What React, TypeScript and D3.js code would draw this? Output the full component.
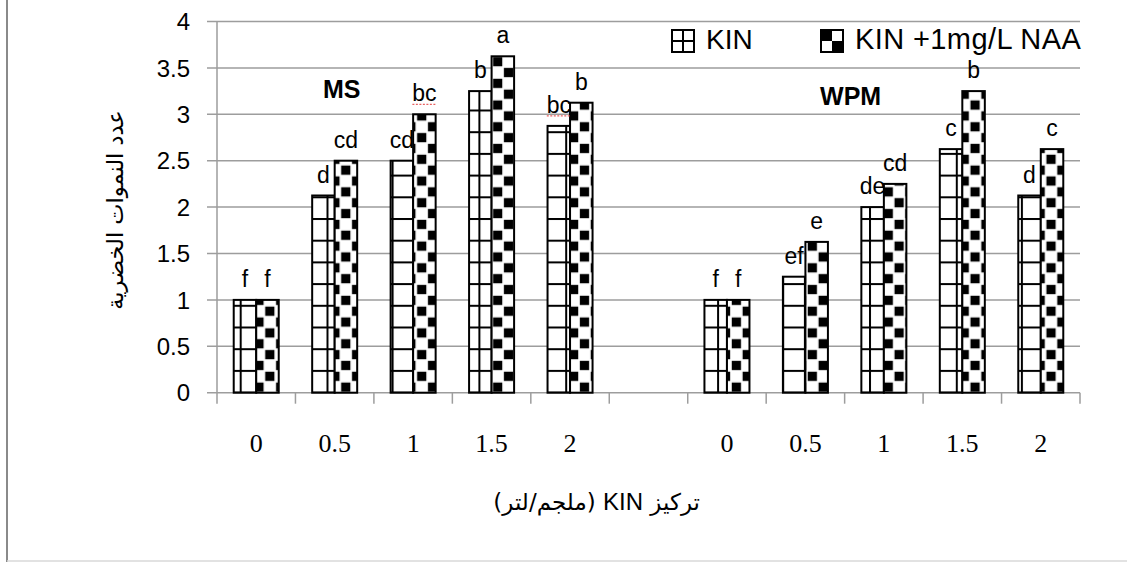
import React from 'react';
import * as d3 from 'd3';

const concentrations = ['0', '0.5', '1', '1.5', '2'];
const mediaNames = ['MS', 'WPM'];
const seriesNames = ['KIN', 'KIN +1mg/L NAA'];
const kinMS = [1, 2.125, 2.5, 3.25, 2.875];
const naaMS = [1, 2.5, 3, 3.625, 3.125];
const kinWPM = [1, 1.25, 2, 2.625, 2.125];
const naaWPM = [1, 1.625, 2.25, 3.25, 2.625];
const lettersKinMS = ['f', 'd', 'cd', 'b', 'bc'];
const lettersNaaMS = ['f', 'cd', 'bc', 'a', 'b'];
const lettersKinWPM = ['f', 'ef', 'de', 'c', 'd'];
const lettersNaaWPM = ['f', 'e', 'cd', 'b', 'c'];
const yTicks = [0, 0.5, 1, 1.5, 2, 2.5, 3, 3.5, 4];
const yTitle = 'عدد النموات الخضرية';
const xTitleParts = ['تركيز ', 'KIN', ' (ملجم/لتر)'];

const W = 1127;
const H = 562;
const plotLeft = 217;
const plotRight = 1080;
const plotTop = 21.5;
const plotBottom = 392.7;

type Row = { key: string; medium: string; conc: string; kin: number; naa: number; lk: string; ln: string };

const rows: Row[] = [];
concentrations.forEach((c, i) =>
  rows.push({ key: 'MS|' + c, medium: 'MS', conc: c, kin: kinMS[i], naa: naaMS[i], lk: lettersKinMS[i], ln: lettersNaaMS[i] })
);
const gapKey = 'gap';
concentrations.forEach((c, i) =>
  rows.push({ key: 'WPM|' + c, medium: 'WPM', conc: c, kin: kinWPM[i], naa: naaWPM[i], lk: lettersKinWPM[i], ln: lettersNaaWPM[i] })
);
const keys = [...rows.slice(0, 5).map((r) => r.key), gapKey, ...rows.slice(5).map((r) => r.key)];

const GRID = '#9d9d9d';
const P = 21.7;

export default function App() {
  const x = d3.scaleBand<string>().domain(keys).range([plotLeft, plotRight]);
  const bw = x.bandwidth();
  const sub = d3.scaleBand<string>().domain(['KIN', 'NAA']).range([0, bw]).paddingOuter(0.743);
  const y = d3.scaleLinear().domain([0, 4]).range([plotBottom, plotTop]);
  const tickXs = [...keys.map((k) => x(k) as number), plotRight];

  const sans = "'Liberation Sans', Arial, sans-serif";
  const serif = "'Liberation Serif', 'Times New Roman', serif";
  const arabic = "'DejaVu Sans', sans-serif";

  const msX = (x('MS|0.5') as number) + bw / 2 + 7;
  const wpmX = (x('WPM|0.5') as number) + bw + 6;

  const letter = (lx: number, ly: number, txt: string, medium: string, k: string) => (
    <g key={k}>
      <text x={lx} y={ly} textAnchor="middle" fontFamily={sans} fontSize={23} fill="#000">
        {txt}
      </text>
      {medium === 'MS' && txt === 'bc' ? (
        <line x1={lx - 12} x2={lx + 12} y1={ly + 3} y2={ly + 3} stroke="#e23b3b" strokeWidth={1} strokeDasharray="2 1.5" />
      ) : null}
    </g>
  );

  return (
    <svg width={W} height={H} style={{ position: 'absolute', left: 0, top: 0, background: '#fff' }}>
      <defs>
        <pattern id="gridPat" patternUnits="userSpaceOnUse" width={P} height={P} x={1} y={1}>
          <rect width={P} height={P} fill="#fff" />
          <rect x={0} y={0} width={2} height={P} fill="#000" />
          <rect x={0} y={0} width={P} height={2} fill="#000" />
        </pattern>
        <pattern id="checkPat" patternUnits="userSpaceOnUse" width={P} height={P} x={4} y={2}>
          <rect width={P} height={P} fill="#fff" />
          <rect x={0.8} y={0.8} width={P / 2 - 1.6} height={P / 2 - 1.6} fill="#000" />
          <rect x={P / 2 + 0.8} y={P / 2 + 0.8} width={P / 2 - 1.6} height={P / 2 - 1.6} fill="#000" />
        </pattern>
      </defs>

      {/* chart border */}
      <line x1={7} x2={7} y1={0} y2={H} stroke="#8a8a8a" strokeWidth={2} />
      <line x1={7} x2={W} y1={H - 1} y2={H - 1} stroke="#d9d9d9" strokeWidth={1.5} />

      {/* gridlines */}
      {yTicks.map((t) => (
        <line key={'g' + t} x1={plotLeft - 10} x2={plotRight} y1={y(t)} y2={y(t)} stroke={GRID} strokeWidth={1.5} />
      ))}
      <line x1={plotLeft} x2={plotLeft} y1={plotTop} y2={plotBottom} stroke={GRID} strokeWidth={1.5} />
      {tickXs.map((tx, i) => (
        <line key={'xt' + i} x1={tx} x2={tx} y1={plotBottom} y2={plotBottom + 11} stroke={GRID} strokeWidth={1.5} />
      ))}

      {/* y tick labels */}
      {yTicks.map((t) => (
        <text key={'yl' + t} x={190} y={y(t)} dy="0.36em" textAnchor="end" fontFamily={sans} fontSize={24} fill="#000">
          {String(t)}
        </text>
      ))}

      {/* bars */}
      {rows.map((r) => {
        const x0 = x(r.key) as number;
        const xk = x0 + (sub('KIN') as number);
        const xn = x0 + (sub('NAA') as number);
        const sw = sub.bandwidth();
        return (
          <g key={r.key}>
            <rect x={xk} y={y(r.kin)} width={sw} height={y(0) - y(r.kin)} fill="url(#gridPat)" stroke="#000" strokeWidth={2} />
            <rect x={xn} y={y(r.naa)} width={sw} height={y(0) - y(r.naa)} fill="url(#checkPat)" stroke="#000" strokeWidth={2} />
            {letter(xk + sw / 2, y(r.kin) - 13, r.lk, r.medium, 'lk')}
            {letter(xn + sw / 2, y(r.naa) - 13, r.ln, r.medium, 'ln')}
            <text x={x0 + bw / 2} y={452} textAnchor="middle" fontFamily={serif} fontSize={26} fill="#000">
              {r.conc}
            </text>
          </g>
        );
      })}

      {/* medium labels */}
      <text x={msX} y={y(3.18)} textAnchor="middle" fontFamily={sans} fontWeight="bold" fontSize={25}>
        {mediaNames[0]}
      </text>
      <text x={wpmX} y={y(3.1)} textAnchor="middle" fontFamily={sans} fontWeight="bold" fontSize={25}>
        {mediaNames[1]}
      </text>

      {/* legend */}
      <g>
        <rect x={672} y={30} width={22} height={22} fill="#fff" stroke="#000" strokeWidth={2} />
        <line x1={683} x2={683} y1={30} y2={52} stroke="#000" strokeWidth={2} />
        <line x1={672} x2={694} y1={41} y2={41} stroke="#000" strokeWidth={2} />
        <text x={706} y={49} fontFamily={sans} fontSize={28}>
          {seriesNames[0]}
        </text>
        <rect x={821} y={30} width={22} height={22} fill="#fff" stroke="#000" strokeWidth={2} />
        <rect x={822} y={31} width={10} height={10} fill="#000" />
        <rect x={832} y={41} width={10} height={10} fill="#000" />
        <text x={855} y={49} fontFamily={sans} fontSize={29} letterSpacing={0.4}>
          {seriesNames[1]}
        </text>
      </g>

      {/* axis titles */}
      <text transform={`translate(123,210) rotate(-90)`} textAnchor="middle" fontFamily={arabic} fontSize={22.5} direction="rtl">
        {yTitle}
      </text>
      <text x={700} y={510} textAnchor="start" direction="rtl" fontFamily={arabic} fontSize={23} style={{ whiteSpace: 'pre' }}>
        <tspan>{xTitleParts[0]}</tspan>
        <tspan fontFamily={sans} fontSize={24}>{xTitleParts[1]}</tspan>
        <tspan>{xTitleParts[2]}</tspan>
      </text>
    </svg>
  );
}
